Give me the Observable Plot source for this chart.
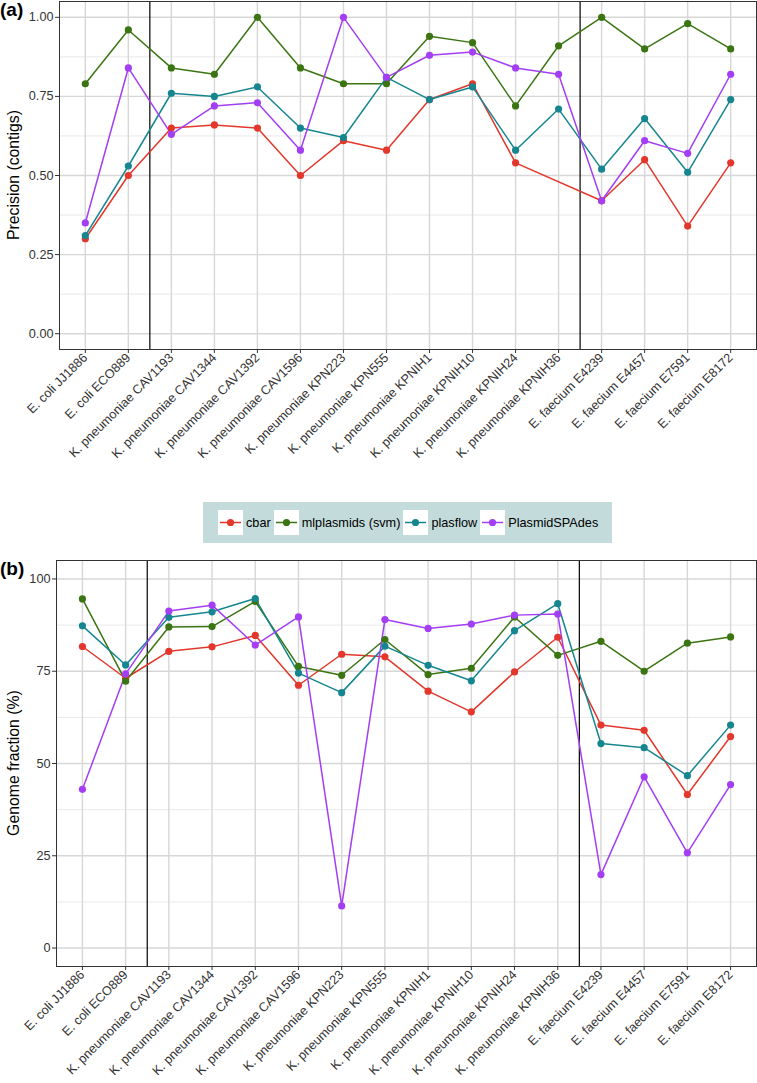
<!DOCTYPE html>
<html><head><meta charset="utf-8">
<script src="https://cdn.jsdelivr.net/npm/d3@7"></script>
<script src="https://cdn.jsdelivr.net/npm/@observablehq/plot@0.6"></script>
<style>
body{margin:0;background:#fff;font-family:"Liberation Sans",Arial,sans-serif;}
#wrap{position:relative;width:757px;height:1083px;overflow:hidden;}
.tag{position:absolute;font-weight:bold;font-size:19px;color:#000;line-height:1;}
.ytitle{position:absolute;font-size:15.8px;color:#000;white-space:nowrap;transform:translate(-50%,-50%) rotate(-90deg);line-height:1;}
#legend{position:absolute;left:203px;top:502px;width:409px;height:41px;background:#c3dbdb;display:flex;align-items:center;padding-left:15px;box-sizing:border-box;font-size:12.7px;color:#000;}
.key{width:25px;height:25px;background:#fff;margin-right:3px;flex:none;}
.lab{margin-right:3px;white-space:nowrap;}
</style></head><body><div id="wrap"></div>
<script>
// ---- data ----
const samples = ["E. coli JJ1886","E. coli ECO889","K. pneumoniae CAV1193","K. pneumoniae CAV1344","K. pneumoniae CAV1392","K. pneumoniae CAV1596","K. pneumoniae KPN223","K. pneumoniae KPN555","K. pneumoniae KPNIH1","K. pneumoniae KPNIH10","K. pneumoniae KPNIH24","K. pneumoniae KPNIH36","E. faecium E4239","E. faecium E4457","E. faecium E7591","E. faecium E8172"];
const methods = ["cbar","mlplasmids (svm)","plasflow","PlasmidSPAdes"];
const colors = ["#e3372b","#3b7512","#15868f","#a33ef4"];

// Panel (a): precision (contigs)
const precCbar      = [0.30,0.50,0.65,0.66,0.65,0.50,0.61,0.58,0.74,0.79,0.54,null,0.42,0.55,0.34,0.54];
const precMlplasmids= [0.79,0.96,0.84,0.82,1.00,0.84,0.79,0.79,0.94,0.92,0.72,0.91,1.00,0.90,0.98,0.90];
const precPlasflow  = [0.31,0.53,0.76,0.75,0.78,0.65,0.62,0.81,0.74,0.78,0.58,0.71,0.52,0.68,0.51,0.74];
const precSPAdes    = [0.35,0.84,0.63,0.72,0.73,0.58,1.00,0.81,0.88,0.89,0.84,0.82,0.42,0.61,0.57,0.82];

// Panel (b): genome fraction (%)
const gfCbar       = [81.7,73.1,80.4,81.6,84.7,71.2,79.6,78.9,69.6,64.0,74.8,84.2,60.4,59.0,41.6,57.3];
const gfMlplasmids = [94.6,72.3,87.0,87.1,93.9,76.3,73.9,83.6,74.1,75.8,89.7,79.3,83.1,75.0,82.6,84.3];
const gfPlasflow   = [87.3,76.7,89.6,91.1,94.7,74.5,69.2,81.8,76.6,72.4,86.0,93.3,55.4,54.3,46.7,60.4];
const gfSPAdes     = [43.0,74.3,91.3,92.9,82.1,89.7,11.4,89.0,86.6,87.8,90.2,90.5,19.9,46.4,25.8,44.3];

const precTicks = [0,0.25,0.5,0.75,1];
const gfTicks = [0,25,50,75,100];

// ---- helpers ----
const idx = d3.range(1, samples.length + 1);
const species = samples.map(s => s.split(" ").slice(0,2).join(" "));
const boundaries = [];
for (let i = 0; i < species.length - 1; i++) if (species[i] !== species[i+1]) boundaries.push(i + 1.5);

function toRows(series) {
  const rows = [];
  series.forEach((vals, m) => vals.forEach((v, i) => {
    if (v != null) rows.push({x: i + 1, y: v, method: methods[m]});
  }));
  return rows;
}
function minorOf(ticks) {
  const out = [];
  for (let i = 0; i < ticks.length - 1; i++) out.push((ticks[i] + ticks[i+1]) / 2);
  return out;
}
function panel({series, ticks, fmt, pad, height, marginLeft, marginTop, marginBottom}) {
  const rows = toRows(series);
  const lo = ticks[0], hi = ticks[ticks.length-1];
  const ext = (hi - lo) * pad;
  return Plot.plot({
    width: 757, height, marginLeft, marginRight: 1, marginTop, marginBottom,
    style: {fontFamily: "Liberation Sans, Arial, sans-serif", fontSize: "12.7px", color: "#333", background: "white", overflow: "visible"},
    x: {domain: [0.4, samples.length + 0.6]},
    y: {domain: [lo - ext, hi + ext]},
    color: {domain: methods, range: colors},
    marks: [
      Plot.ruleY(minorOf(ticks), {stroke: "#e3e3e3", strokeWidth: 0.8}),
      Plot.ruleY(ticks, {stroke: "#d7d7d7", strokeWidth: 1.4}),
      Plot.ruleX(idx, {stroke: "#d7d7d7", strokeWidth: 1.4}),
      Plot.ruleX(boundaries, {stroke: "#000", strokeWidth: 1.2}),
      Plot.line(rows, {x: "x", y: "y", stroke: "method", z: "method", strokeWidth: 1.5}),
      Plot.dot(rows, {x: "x", y: "y", fill: "method", r: 3.6}),
      Plot.frame({stroke: "#333", strokeWidth: 1}),
      Plot.axisX({ticks: idx, tickFormat: i => samples[i-1], tickRotate: -45, tickSize: 4, tickPadding: 2, label: null, fill: "#333", stroke: "#333"}),
      Plot.axisY({ticks: ticks, tickFormat: fmt, tickSize: 4, tickPadding: 2, label: null, fill: "#333", stroke: "#333"})
    ]
  });
}

const wrap = document.getElementById("wrap");

// top panel
const svgTop = panel({series: [precCbar, precMlplasmids, precPlasflow, precSPAdes], ticks: precTicks, fmt: d3.format(".2f"), pad: 0.05,
  height: 455, marginLeft: 59, marginTop: 1, marginBottom: 106});
svgTop.style.position = "absolute"; svgTop.style.left = "0px"; svgTop.style.top = "0px";
wrap.appendChild(svgTop);

// bottom panel
const svgBot = panel({series: [gfCbar, gfMlplasmids, gfPlasflow, gfSPAdes], ticks: gfTicks, fmt: d3.format("d"), pad: 0.05,
  height: 538, marginLeft: 56, marginTop: 15, marginBottom: 117});
svgBot.style.position = "absolute"; svgBot.style.left = "0px"; svgBot.style.top = "545px";
wrap.appendChild(svgBot);

// tags and y titles
function addDiv(cls, text, css) {
  const d = document.createElement("div");
  d.className = cls; d.textContent = text;
  Object.assign(d.style, css);
  wrap.appendChild(d);
}
addDiv("tag", "(a)", {left: "0px", top: "0px"});
addDiv("tag", "(b)", {left: "0px", top: "559px"});
addDiv("ytitle", "Precision (contigs)", {left: "14px", top: "175px"});
addDiv("ytitle", "Genome fraction (%)", {left: "14px", top: "763px"});

// legend
const leg = document.createElement("div");
leg.id = "legend";
methods.forEach((m, i) => {
  const k = document.createElement("div");
  k.className = "key";
  k.innerHTML = `<svg width="25" height="25"><line x1="2" y1="12.5" x2="23" y2="12.5" stroke="${colors[i]}" stroke-width="1.5"/><circle cx="12.5" cy="12.5" r="3.6" fill="${colors[i]}"/></svg>`;
  leg.appendChild(k);
  const l = document.createElement("div");
  l.className = "lab"; l.textContent = m;
  leg.appendChild(l);
});
wrap.appendChild(leg);
</script>
</body></html>
